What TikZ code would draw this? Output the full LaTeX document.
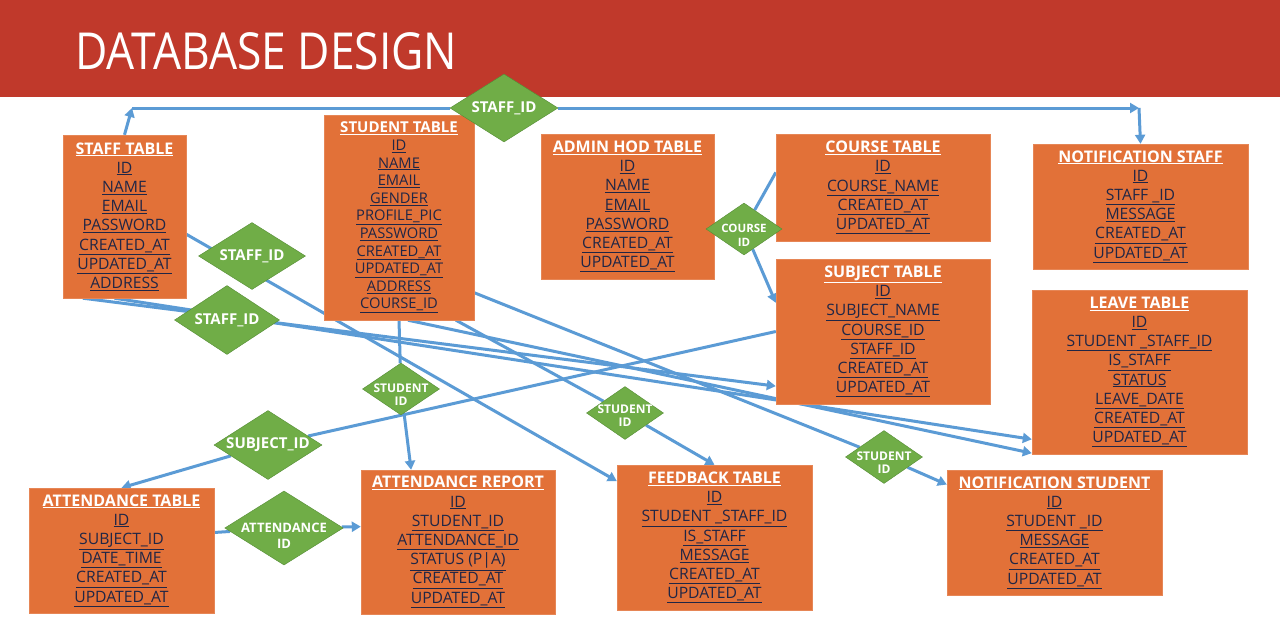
\documentclass[tikz,border=0pt]{standalone}
\usepackage{fontspec}
\setmainfont{Open Sans}
\newfontfamily\titlefont{Open Sans}[FakeStretch=0.87]
\usetikzlibrary{arrows.meta,shapes.geometric,backgrounds}
\definecolor{bandred}{RGB}{192,57,43}
\definecolor{tblfill}{RGB}{226,113,56}
\definecolor{fldcol}{RGB}{32,38,70}
\definecolor{relgreen}{RGB}{112,173,71}
\definecolor{relline}{RGB}{84,140,52}
\definecolor{linkblue}{RGB}{91,155,213}
\newcommand{\ttl}[2][16]{\textcolor{white}{\bfseries\fontsize{#1}{19.2}\selectfont\underline{#2}}}
\newcommand{\fld}[1]{\underline{#1}}
\tikzset{
  tbl/.style={draw=tblfill!85!white, fill=tblfill, align=center, inner sep=0pt, text=fldcol, font=\fontsize{15.7}{19.2}\selectfont},
  rel/.style={draw=relline, fill=relgreen, diamond, aspect=1.6, inner sep=-6pt, align=center, text=white, font=\bfseries\fontsize{15}{16}\selectfont},
  srel/.style={rel, font=\bfseries\fontsize{12}{13.5}\selectfont, text height=33pt, text depth=0pt},
  arr/.style={draw=linkblue, line width=3pt, -{Triangle[length=9pt,width=10pt]}},
}
\begin{document}
\begin{tikzpicture}[x=1pt,y=-1pt]
\useasboundingbox (0,0) rectangle (1280,618);
\fill[bandred] (0,0) rectangle (1280,97);
\node[font=\titlefont\fontsize{51}{51}\selectfont, text=white, anchor=base west, inner sep=0pt] (title) at (75,70) {DATABASE DESIGN};
% tables
\node[tbl, minimum width=123pt, minimum height=163pt] (staff) at (124.5,216.5) {\ttl{STAFF TABLE}\\\fld{ID}\\\fld{NAME}\\\fld{EMAIL}\\\fld{PASSWORD}\\\fld{CREATED\_AT}\\\fld{UPDATED\_AT}\\\fld{ADDRESS}};
\node[tbl, font=\fontsize{14.7}{17.6}\selectfont, minimum width=150pt, minimum height=205pt] (stu) at (399,217.5) {\ttl[15]{STUDENT TABLE}\\\fld{ID}\\\fld{NAME}\\\fld{EMAIL}\\\fld{GENDER}\\\fld{PROFILE\_PIC}\\\fld{PASSWORD}\\\fld{CREATED\_AT}\\\fld{UPDATED\_AT}\\\fld{ADDRESS}\\\fld{COURSE\_ID}};
\node[tbl, minimum width=173pt, minimum height=145pt] (admin) at (627.5,206.5) {\ttl{ADMIN HOD TABLE}\\\fld{ID}\\\fld{NAME}\\\fld{EMAIL}\\\fld{PASSWORD}\\\fld{CREATED\_AT}\\\fld{UPDATED\_AT}};
\node[tbl, minimum width=214pt, minimum height=107pt] (course) at (883,187.5) {\ttl{COURSE TABLE}\\\fld{ID}\\\fld{COURSE\_NAME}\\\fld{CREATED\_AT}\\\fld{UPDATED\_AT}};
\node[tbl, minimum width=215pt, minimum height=125pt] (nstaff) at (1140.5,206.5) {\ttl{NOTIFICATION STAFF}\\\fld{ID}\\\fld{STAFF \_ID}\\\fld{MESSAGE}\\\fld{CREATED\_AT}\\\fld{UPDATED\_AT}};
\node[tbl, minimum width=214pt, minimum height=145pt] (subj) at (883,331.5) {\ttl{SUBJECT TABLE}\\\fld{ID}\\\fld{SUBJECT\_NAME}\\\fld{COURSE\_ID}\\\fld{STAFF\_ID}\\\fld{CREATED\_AT}\\\fld{UPDATED\_AT}};
\node[tbl, minimum width=215pt, minimum height=164pt] (leave) at (1139.5,372) {\ttl{LEAVE TABLE}\\\fld{ID}\\\fld{STUDENT \_STAFF\_ID}\\\fld{IS\_STAFF}\\\fld{STATUS}\\\fld{LEAVE\_DATE}\\\fld{CREATED\_AT}\\\fld{UPDATED\_AT}};
\node[tbl, minimum width=185pt, minimum height=125pt] (att) at (121.5,550.5) {\ttl{ATTENDANCE TABLE}\\\fld{ID}\\\fld{SUBJECT\_ID}\\\fld{DATE\_TIME}\\\fld{CREATED\_AT}\\\fld{UPDATED\_AT}};
\node[tbl, minimum width=194pt, minimum height=144pt] (attrep) at (458,542) {\ttl{ATTENDANCE REPORT}\\\fld{ID}\\\fld{STUDENT\_ID}\\\fld{ATTENDANCE\_ID}\\\fld{STATUS (P|A)}\\\fld{CREATED\_AT}\\\fld{UPDATED\_AT}};
\node[tbl, minimum width=195pt, minimum height=145pt] (fb) at (714.5,537.5) {\ttl{FEEDBACK TABLE}\\\fld{ID}\\\fld{STUDENT \_STAFF\_ID}\\\fld{IS\_STAFF}\\\fld{MESSAGE}\\\fld{CREATED\_AT}\\\fld{UPDATED\_AT}};
\node[tbl, minimum width=215pt, minimum height=125pt] (nstu) at (1054.5,532.5) {\ttl{NOTIFICATION STUDENT}\\\fld{ID}\\\fld{STUDENT \_ID}\\\fld{MESSAGE}\\\fld{CREATED\_AT}\\\fld{UPDATED\_AT}};
% relations
\node[rel, minimum width=108pt, minimum height=68pt] (stid0) at (504,108) {STAFF\_ID};
\node[rel, minimum width=107pt, minimum height=67pt] (stid1) at (252,256) {STAFF\_ID};
\node[rel, minimum width=105pt, minimum height=69pt] (stid2) at (227,320) {STAFF\_ID};
\node[srel, minimum width=77pt, minimum height=52pt] (sid1) at (401,389) {STUDENT\\ID};
\node[rel, minimum width=108pt, minimum height=69pt] (subid) at (268,445) {SUBJECT\_ID};
\node[rel, font=\bfseries\fontsize{13}{16}\selectfont, text height=40pt, text depth=0pt, minimum width=114pt, minimum height=69pt] (aid) at (284,528) {ATTENDANCE\\ID};
\node[srel, text height=27pt, minimum width=77pt, minimum height=53pt] (sid2) at (625,413) {STUDENT\\ID};
\node[srel, minimum width=77pt, minimum height=53pt] (sid3) at (884,457) {STUDENT\\ID};
\node[srel, font=\bfseries\fontsize{11.5}{13.5}\selectfont, text height=34pt, minimum width=76pt, minimum height=52pt] (cid) at (744,229) {COURSE\\ID};
\coordinate (tl) at (132,108);
\coordinate (tr) at (1139,108);
\begin{scope}[on background layer]
\fill[white] (0,0) rectangle (1280,618);
\draw[arr] (staff.north) -- (tl); \draw[arr] (tl) -- (stid0) -- (tr); \draw[arr] (tr) -- (nstaff.north);
\draw[arr] (staff.-16) -- (fb.150);
\draw[arr] (staff.-117) -- (subj.-153); \draw[arr] (staff.-97) -- (leave.-148);
\draw[arr] (stu.-85) -- (leave.-143);
\draw[arr] (stu.-61) -- (sid2) -- (fb.north);
\draw[arr] (stu.-45) -- (sid3) -- (nstu.156);
\draw[arr] (stu.south) -- (sid1) -- (attrep.123);
\draw[arr] (subj.west) -- (subid) -- (att.north);
\draw[arr] (course.172) -- (cid) -- (subj.165);
\draw[arr] (att.11) -- (aid) -- (attrep.171);
\end{scope}
\end{tikzpicture}
\end{document}
